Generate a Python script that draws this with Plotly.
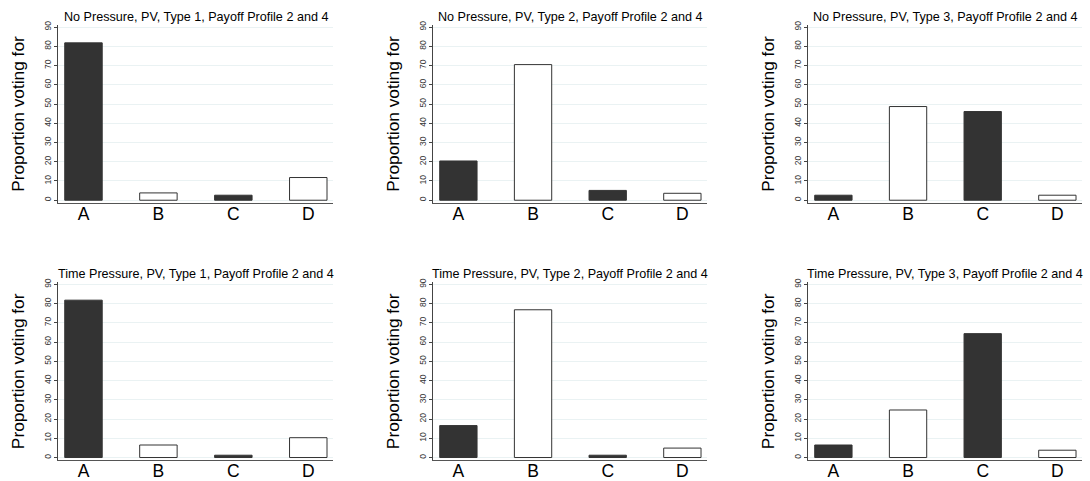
import plotly.graph_objects as go
from plotly.subplots import make_subplots

categories = ["A", "B", "C", "D"]
titles = [
    "No Pressure, PV, Type 1, Payoff Profile 2 and 4",
    "No Pressure, PV, Type 2, Payoff Profile 2 and 4",
    "No Pressure, PV, Type 3, Payoff Profile 2 and 4",
    "Time Pressure, PV, Type 1, Payoff Profile 2 and 4",
    "Time Pressure, PV, Type 2, Payoff Profile 2 and 4",
    "Time Pressure, PV, Type 3, Payoff Profile 2 and 4",
]
no_pressure_type1 = [81.8, 3.8, 2.6, 11.8]
no_pressure_type2 = [20.4, 70.5, 5.1, 3.6]
no_pressure_type3 = [2.6, 48.7, 46.1, 2.6]
time_pressure_type1 = [81.8, 6.5, 1.2, 10.3]
time_pressure_type2 = [16.6, 76.8, 1.2, 4.9]
time_pressure_type3 = [6.5, 24.7, 64.4, 3.8]
y_ticks = [0, 10, 20, 30, 40, 50, 60, 70, 80, 90]
y_title = "Proportion voting for"

series = [no_pressure_type1, no_pressure_type2, no_pressure_type3,
          time_pressure_type1, time_pressure_type2, time_pressure_type3]

W, H = 1090, 481
fig = make_subplots(rows=2, cols=3)

x_px = [(58, 333), (433, 707), (808, 1082)]
y_px = [(21, 201), (281, 461)]

fill = ["#333333", "white", "#333333", "white"]
font = "Liberation Sans, Arial, sans-serif"

for i, vals in enumerate(series):
    r, c = i // 3 + 1, i % 3 + 1
    fig.add_trace(go.Bar(
        x=categories, y=vals, width=0.5,
        marker=dict(color=fill, line=dict(color="#333333", width=1)),
        showlegend=False, hoverinfo="x+y"), row=r, col=c)
    idx = "" if i == 0 else str(i + 1)
    x0, x1 = x_px[c - 1]
    y0, y1 = y_px[r - 1]
    fig.layout["xaxis" + idx].update(
        domain=[x0 / W, x1 / W], range=[-0.34, 3.33],
        showline=True, linecolor="#555555", linewidth=1,
        ticks="", tickfont=dict(size=17.5, color="black", family=font),
        ticklabelstandoff=-5,
        showgrid=False, zeroline=False, fixedrange=True)
    fig.layout["yaxis" + idx].update(
        domain=[1 - y1 / H, 1 - y0 / H], range=[-1.4, 91.2],
        tickvals=y_ticks, tickangle=-90,
        tickfont=dict(size=8.5, color="#333333", family=font),
        ticks="outside", ticklen=3, tickcolor="#444444",
        showline=True, linecolor="#444444", linewidth=1,
        showgrid=True, gridcolor="#eaf2f3", gridwidth=1,
        zeroline=False, fixedrange=True)
    fig.add_annotation(text=titles[i], xref="paper", yref="paper",
                       x=(x0 + x1) / 2 / W, y=1 - (y0 - 8) / H,
                       showarrow=False, xanchor="center", yanchor="middle",
                       font=dict(size=12.6, color="black", family=font))
    fig.add_annotation(text=y_title, xref="paper", yref="paper",
                       x=(x0 - 40) / W, y=1 - (y0 + y1) / 2 / H,
                       textangle=-90, showarrow=False,
                       xanchor="center", yanchor="middle",
                       font=dict(size=17.3, color="black", family=font))

fig.update_layout(width=W, height=H, margin=dict(l=0, r=0, t=0, b=0),
                  plot_bgcolor="white", paper_bgcolor="white",
                  bargap=0.5)
fig.write_html("out.html", config={"displayModeBar": False},
               post_script="document.body.style.margin='0';document.body.style.overflow='hidden';")
